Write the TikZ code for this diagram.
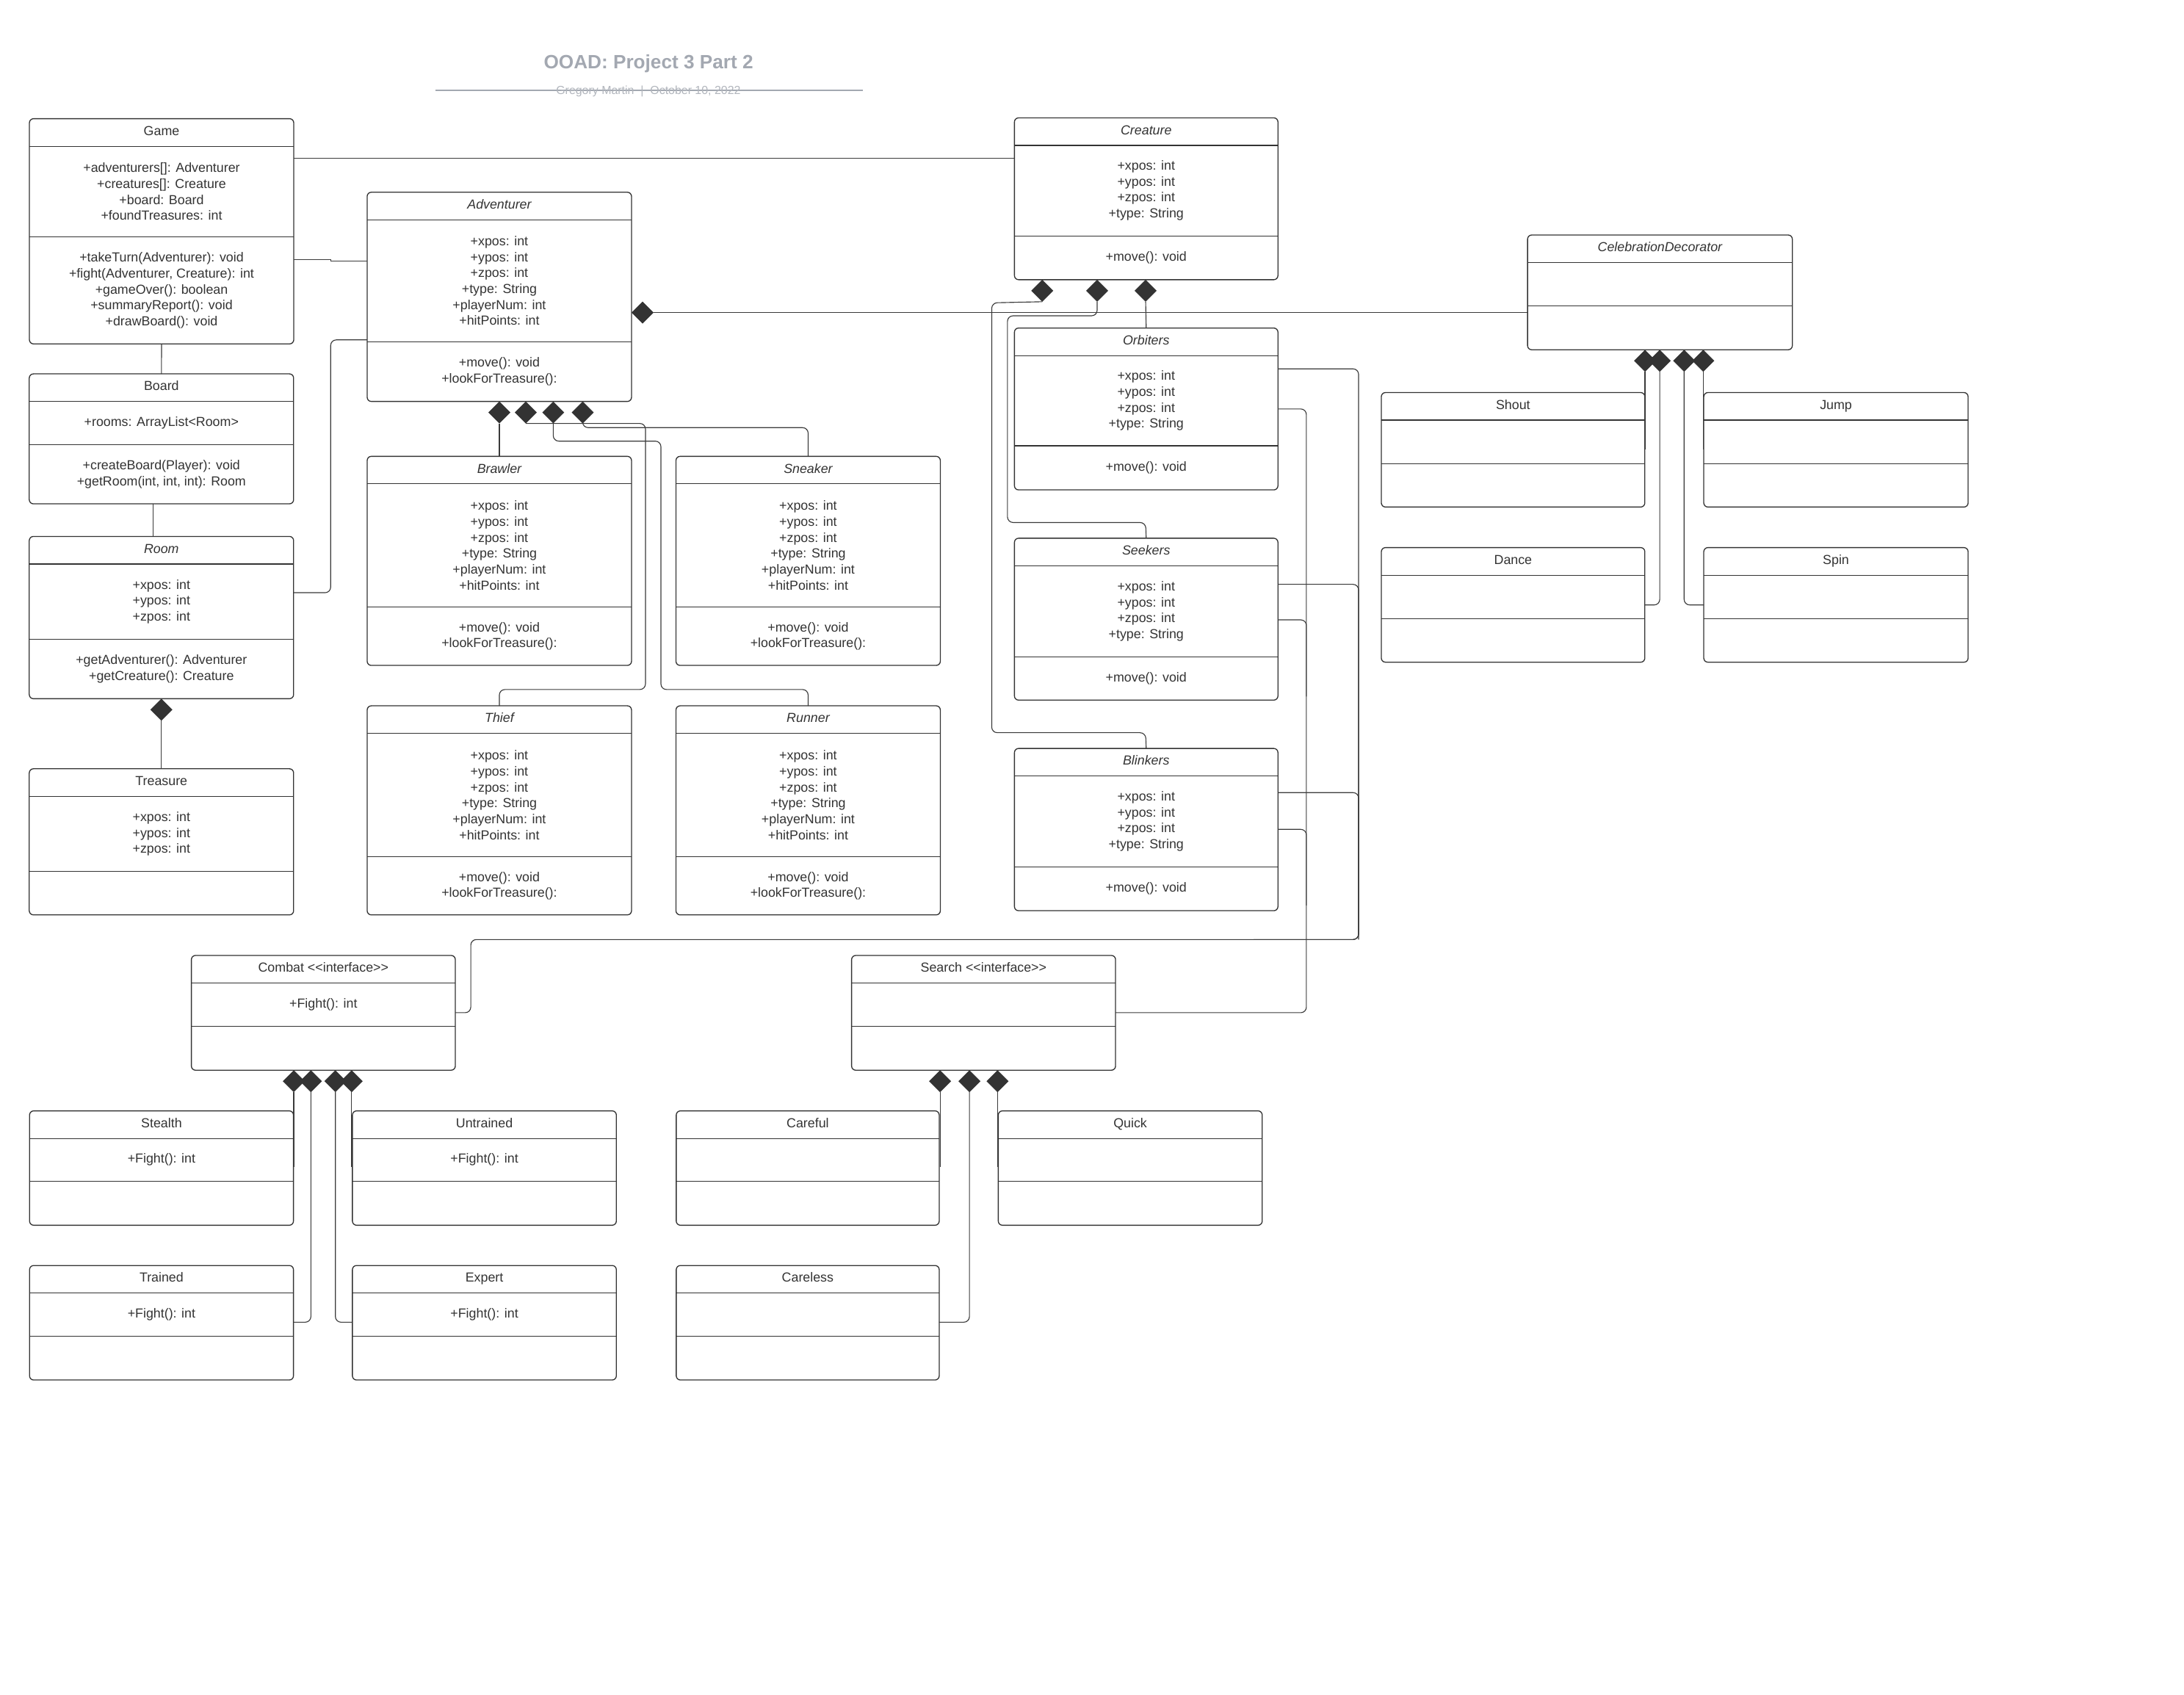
\documentclass[tikz,border=0pt]{standalone}
\usepackage{fontspec}
\setmainfont{Liberation Sans}
\usetikzlibrary{shapes.geometric}

\definecolor{ink}{HTML}{333333}
\definecolor{edgec}{HTML}{3A3A3A}
\definecolor{titlegray}{HTML}{A3A8B1}
\definecolor{subgray}{HTML}{B2B6BD}

\tikzset{
  classbox/.style={draw=ink, line width=0.7pt, rounded corners=3pt, inner sep=0pt,
                   outer sep=0pt, anchor=north west},
  divider/.style={draw=ink, line width=0.6pt},
  umltext/.style={text=ink, font=\fontsize{9.4}{11.4}\selectfont, align=center, inner sep=0pt},
  conn/.style={draw=edgec, line width=0.6pt, rounded corners=4pt},
  comp/.style={diamond, fill=ink, draw=none, minimum width=15.8pt, minimum height=15.8pt,
               inner sep=0pt, outer sep=0pt},
}

% #1 name, #2 x, #3 y, #4 width, #5 height, #6 offset of second divider,
% #7 class name, #8 attributes, #9 operations
\newcommand\umlclass[9]{%
  \node[classbox, minimum width=#4, minimum height=#5] (#1) at (#2,#3) {};
  \draw[divider] (#2,#3+19.8) -- ++(#4,0);
  \draw[divider] (#2,#3+#6) -- ++(#4,0);
  \node[umltext, anchor=base] (#1-name) at ({#2+#4/2},{#3+12}) {#7};
  \node[umltext] (#1-attr) at ({#2+#4/2},{#3+(19.8+#6)/2}) {#8};
  \node[umltext] (#1-ops) at ({#2+#4/2},{#3+(#6+#5)/2}) {#9};
}

\newcommand\advattrs{+xpos: int\\+ypos: int\\+zpos: int\\+type: String\\+playerNum: int\\+hitPoints: int}
\newcommand\advops{+move(): void\\+lookForTreasure():}
\newcommand\creattrs{+xpos: int\\+ypos: int\\+zpos: int\\+type: String}

\begin{document}
\begin{tikzpicture}[x=1pt, y=-1pt]
\fill[white] (0,0) rectangle (1568,1216.4);
\useasboundingbox (0,0) rectangle (1568,1216.4);

% heading
\draw[titlegray, line width=0.9pt] (312.4,65) -- (619.3,65);
\node[anchor=base, text=titlegray, inner sep=0pt, font=\bfseries\fontsize{13.8}{16}\selectfont]
  (title) at (465.6,49.2) {OOAD: Project 3 Part 2};
\node[anchor=base, text=subgray, inner sep=0pt, font=\fontsize{8.4}{10}\selectfont]
  (byline) at (465.5,67.7) {Gregory Martin\ \ |\ \ October 10, 2022};

% ---- classes ----
\umlclass{game}{21.1}{85.2}{189.8}{161.7}{84.9}{Game}
  {+adventurers[]: Adventurer\\+creatures[]: Creature\\+board: Board\\+foundTreasures: int}
  {+takeTurn(Adventurer): void\\+fight(Adventurer, Creature): int\\+gameOver(): boolean\\+summaryReport(): void\\+drawBoard(): void}
\umlclass{board}{21}{268.4}{189.8}{93.3}{50.8}{Board}
  {+rooms: ArrayList<Room>}
  {+createBoard(Player): void\\+getRoom(int, int, int): Room}
\umlclass{room}{21}{385.1}{189.8}{116.5}{73.8}{\itshape Room}
  {+xpos: int\\+ypos: int\\+zpos: int}
  {+getAdventurer(): Adventurer\\+getCreature(): Creature}
\umlclass{treasure}{21}{551.9}{189.8}{104.9}{73.7}{Treasure}
  {+xpos: int\\+ypos: int\\+zpos: int}{}

\umlclass{adventurer}{263.6}{138}{189.8}{150.2}{107.2}{\itshape Adventurer}{\advattrs}{\advops}
\umlclass{brawler}{263.6}{327.6}{189.8}{150.1}{108.1}{\itshape Brawler}{\advattrs}{\advops}
\umlclass{sneaker}{485.3}{327.6}{189.8}{150.1}{108.1}{\itshape Sneaker}{\advattrs}{\advops}
\umlclass{thief}{263.6}{506.7}{189.8}{150.1}{108.4}{\itshape Thief}{\advattrs}{\advops}
\umlclass{runner}{485.3}{506.7}{189.8}{150.1}{108.4}{\itshape Runner}{\advattrs}{\advops}

\umlclass{creature}{728.3}{84.6}{189.2}{116.2}{84.7}{\itshape Creature}{\creattrs}{+move(): void}
\umlclass{orbiters}{728.3}{235.5}{189.2}{116.2}{84.5}{\itshape Orbiters}{\creattrs}{+move(): void}
\umlclass{seekers}{728.3}{386.4}{189.2}{116.2}{85}{\itshape Seekers}{\creattrs}{+move(): void}
\umlclass{blinkers}{728.3}{537.3}{189.2}{116.5}{85}{\itshape Blinkers}{\creattrs}{+move(): void}

\umlclass{decorator}{1096.7}{168.7}{190.1}{82.4}{50.9}{\itshape CelebrationDecorator}{}{}
\umlclass{shout}{991.7}{281.8}{189.2}{82.2}{51.1}{Shout}{}{}
\umlclass{jump}{1223.2}{281.8}{189.8}{82.2}{51.1}{Jump}{}{}
\umlclass{dance}{991.7}{393.1}{189.2}{82.3}{51.2}{Dance}{}{}
\umlclass{spin}{1223.2}{393.1}{189.8}{82.3}{51.2}{Spin}{}{}

\umlclass{combat}{137.4}{685.9}{189.5}{82.4}{50.8}{Combat <\kern0pt<interface>\kern0pt>}{+Fight(): int}{}
\umlclass{search}{611.4}{685.9}{189.5}{82.4}{50.8}{Search <\kern0pt<interface>\kern0pt>}{}{}

\umlclass{stealth}{21.2}{797.5}{189.5}{82.1}{50.5}{Stealth}{+Fight(): int}{}
\umlclass{untrained}{253}{797.5}{189.5}{82.1}{50.5}{Untrained}{+Fight(): int}{}
\umlclass{careful}{485.5}{797.5}{188.8}{82.1}{50.5}{Careful}{}{}
\umlclass{quick}{716.7}{797.5}{189.5}{82.1}{50.5}{Quick}{}{}
\umlclass{trained}{21.2}{908.5}{189.5}{82.2}{50.9}{Trained}{+Fight(): int}{}
\umlclass{expert}{253}{908.5}{189.5}{82.2}{50.9}{Expert}{+Fight(): int}{}
\umlclass{careless}{485.5}{908.5}{188.8}{82.2}{50.9}{Careless}{}{}

% ---- composition diamonds ----
\node[comp] (room-d) at (115.9,509.5) {};
\node[comp] (adv-d1) at (358.5,296.1) {};
\node[comp] (adv-d2) at (377.5,296.1) {};
\node[comp] (adv-d3) at (397.2,296.1) {};
\node[comp] (adv-d4) at (418.3,296.1) {};
\node[comp] (adv-dr) at (461.3,224.4) {};
\node[comp] (cre-d1) at (748.3,208.7) {};
\node[comp] (cre-d2) at (787.7,208.7) {};
\node[comp] (cre-d3) at (822.5,208.7) {};
\node[comp] (dec-d1) at (1181,259) {};
\node[comp] (dec-d2) at (1191.6,259) {};
\node[comp] (dec-d3) at (1209.1,259) {};
\node[comp] (dec-d4) at (1222.8,259) {};
\node[comp] (com-d1) at (210.9,776.2) {};
\node[comp] (com-d2) at (223.2,776.2) {};
\node[comp] (com-d3) at (240.8,776.2) {};
\node[comp] (com-d4) at (252.5,776.2) {};
\node[comp] (sea-d1) at (674.9,776.2) {};
\node[comp] (sea-d2) at (696,776.2) {};
\node[comp] (sea-d3) at (716.2,776.2) {};

% ---- connectors ----
\draw[conn] (game.east |- 0,113.7) -- (creature.west |- 0,113.7);
\draw[conn, rounded corners=0pt] (game.east |- 0,186.3) -- (237.3,186.3) -- (237.3,187.2) -- (adventurer.west |- 0,187.2);
\draw[conn] (game.south) -- (board.north);
\draw[conn] (board.south -| 109.7,0) -- (room.north -| 109.7,0);
\draw[conn] (room.east |- 0,425.5) -- (237.4,425.5) -- (237.4,244) -- (adventurer.west |- 0,244);
\draw[conn] (room-d.south) -- (treasure.north);

\draw[conn] (adv-d1.south) -- (adv-d1.south |- brawler.north);
\draw[conn] (adv-d2.south) -- (463.4,304) -- (463.4,495) -- (358.5,495) -- (thief.north);
\draw[conn] (adv-d3.south) -- (397.2,316.7) -- (474.5,316.7) -- (474.5,495) -- (580.2,495) -- (runner.north);
\draw[conn] (adv-d4.south) -- (418.3,307) -- (580.2,307) -- (sneaker.north);
\draw[conn] (adv-dr.east) -- (decorator.west |- adv-dr.east);

\draw[conn] (cre-d1.south) -- (712,217.4) -- (712,526) -- (822.5,526) -- (blinkers.north);
\draw[conn] (cre-d2.south) -- (787.7,226.7) -- (723.3,226.7) -- (723.3,375.1) -- (822.5,375.1) -- (seekers.north);
\draw[conn] (cre-d3.south) -- (orbiters.north);

\draw[conn] (orbiters.east |- 0,264.8) -- (975.4,264.8) -- (975.4,674.5) -- (338,674.5) -- (338,727) -- (combat.east |- 0,727);
\draw[conn] (seekers.east |- 0,419.5) -- (975.4,419.5) -- (975.4,674.5);
\draw[conn] (blinkers.east |- 0,569) -- (975.4,569) -- (975.4,674.5) -- (900,674.5);
\draw[conn] (orbiters.east |- 0,293.6) -- (937.9,293.6) -- (937.9,727) -- (search.east |- 0,727);
\draw[conn] (seekers.east |- 0,445) -- (937.9,445) -- (937.9,500);
\draw[conn] (blinkers.east |- 0,595.4) -- (937.9,595.4) -- (937.9,650);

\draw[conn] (dec-d1.south) -- (dec-d1.south |- 0,322.6);
\draw[conn] (dec-d2.south) -- (1191.6,434.3) -- (dance.east |- 0,434.3);
\draw[conn] (dec-d3.south) -- (1209.1,434.3) -- (spin.west |- 0,434.3);
\draw[conn] (dec-d4.south) -- (dec-d4.south |- 0,322.6);

\draw[conn] (com-d1.south) -- (com-d1.south |- 0,838);
\draw[conn] (com-d2.south) -- (223.2,949.2) -- (trained.east |- 0,949.2);
\draw[conn] (com-d3.south) -- (240.8,949.2) -- (expert.west |- 0,949.2);
\draw[conn] (com-d4.south) -- (com-d4.south |- 0,838);

\draw[conn] (sea-d1.south) -- (sea-d1.south |- 0,838);
\draw[conn] (sea-d2.south) -- (696,949.2) -- (careless.east |- 0,949.2);
\draw[conn] (sea-d3.south) -- (sea-d3.south |- 0,838);
\end{tikzpicture}
\end{document}
